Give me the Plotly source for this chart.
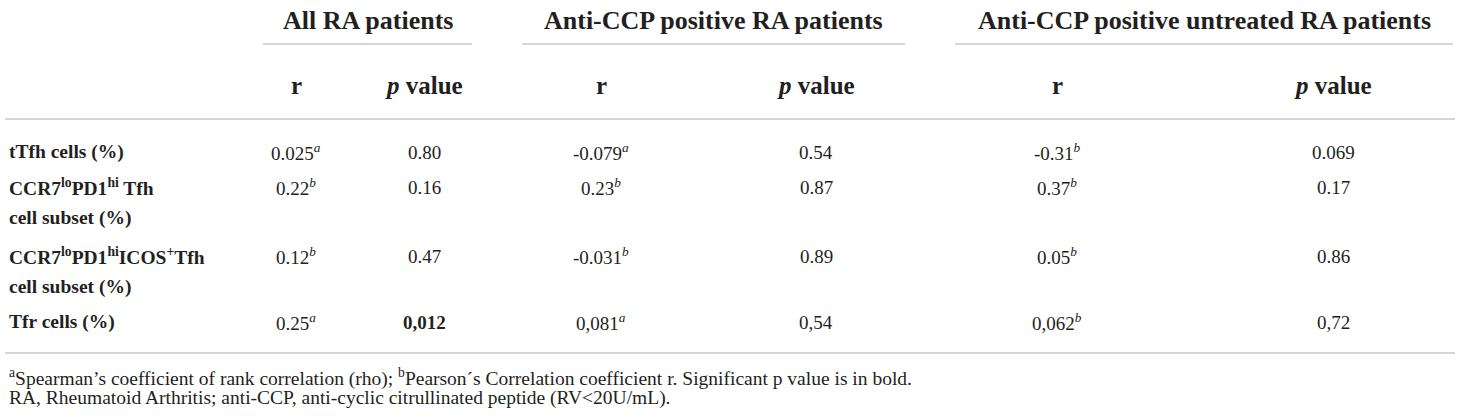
import plotly.graph_objects as go

# ---------------- data ----------------
group_titles = ["All RA patients", "Anti-CCP positive RA patients",
                "Anti-CCP positive untreated RA patients"]
sub_headers = ["r", "<i>p</i> value"]

row_labels = [
    ["tTfh cells (%)"],
    ["CCR7<sup>lo</sup>PD1<sup>hi</sup> Tfh", "cell subset (%)"],
    ["CCR7<sup>lo</sup>PD1<sup>hi</sup>ICOS<sup>+</sup>Tfh", "cell subset (%)"],
    ["Tfr cells (%)"],
]

r_all = ["0.025", "0.22", "0.12", "0.25"]
r_all_note = ["a", "b", "b", "a"]
p_all = ["0.80", "0.16", "0.47", "0,012"]
p_all_bold = [False, False, False, True]

r_ccp = ["-0.079", "0.23", "-0.031", "0,081"]
r_ccp_note = ["a", "b", "b", "a"]
p_ccp = ["0.54", "0.87", "0.89", "0,54"]

r_unt = ["-0.31", "0.37", "0.05", "0,062"]
r_unt_note = ["b", "b", "b", "b"]
p_unt = ["0.069", "0.17", "0.86", "0,72"]

footnotes = [
    "<sup>a</sup>Spearman\u2019s coefficient of rank correlation (rho); "
    "<sup>b</sup>Pearson\u00b4s Correlation coefficient r. Significant p value is in bold.",
    "RA, Rheumatoid Arthritis; anti-CCP, anti-cyclic citrullinated peptide (RV<20U/mL).",
]

# ---------------- layout (page pixel positions) ----------------
W, H = 1460, 419
FONT = "Liberation Serif"
TXT = "#231f20"
LINE = "#c9c9c9"

group_spans = [(263, 472), (522, 905), (955, 1453)]
col_x = [296, 424, 601, 816, 1057, 1333]
row_y = [152, 187, 256, 322]
row_y2 = 31  # second line offset
LEFT = 7

ann = []
shapes = []

def add_text(x, y, text, size, xanchor="center", bold=False):
    if bold:
        text = "<b>" + text + "</b>"
    ann.append(dict(x=x, y=y, xref="x", yref="y", text=text, showarrow=False,
                    xanchor=xanchor, yanchor="middle",
                    font=dict(family=FONT, size=size, color=TXT)))

def hline(x0, x1, y):
    shapes.append(dict(type="line", xref="x", yref="y", x0=x0, x1=x1, y0=y, y1=y,
                       line=dict(color=LINE, width=1.5)))

for title, (x0, x1) in zip(group_titles, group_spans):
    add_text((x0 + x1) / 2, 20, title, 26, bold=True)
    hline(x0, x1, 44)

for i, cx in enumerate(col_x):
    add_text(cx, 85, sub_headers[i % 2], 25, bold=True)

hline(5, 1455, 119)

def note(v, n):
    return v + "<sup><i>" + n + "</i></sup>"

for i, y in enumerate(row_y):
    for j, line in enumerate(row_labels[i]):
        add_text(LEFT, y + j * row_y2, line, 19.5, xanchor="left", bold=True)
    add_text(col_x[0], y, note(r_all[i], r_all_note[i]), 19)
    add_text(col_x[1], y, p_all[i], 19, bold=p_all_bold[i])
    add_text(col_x[2], y, note(r_ccp[i], r_ccp_note[i]), 19)
    add_text(col_x[3], y, p_ccp[i], 19)
    add_text(col_x[4], y, note(r_unt[i], r_unt_note[i]), 19)
    add_text(col_x[5], y, p_unt[i], 19)

hline(5, 1455, 353)

for k, fn in enumerate(footnotes):
    add_text(LEFT, 377 + k * 21, fn, 19.5, xanchor="left")

fig = go.Figure()
fig.update_layout(
    width=W, height=H,
    margin=dict(l=0, r=0, t=0, b=0),
    paper_bgcolor="white", plot_bgcolor="white",
    xaxis=dict(range=[0, W], visible=False, fixedrange=True),
    yaxis=dict(range=[H, 0], visible=False, fixedrange=True),
    annotations=ann, shapes=shapes, showlegend=False,
)

fig.write_html("out.html", config={"displayModeBar": False},
               post_script="document.body.style.margin='0';document.body.style.overflow='hidden';")
